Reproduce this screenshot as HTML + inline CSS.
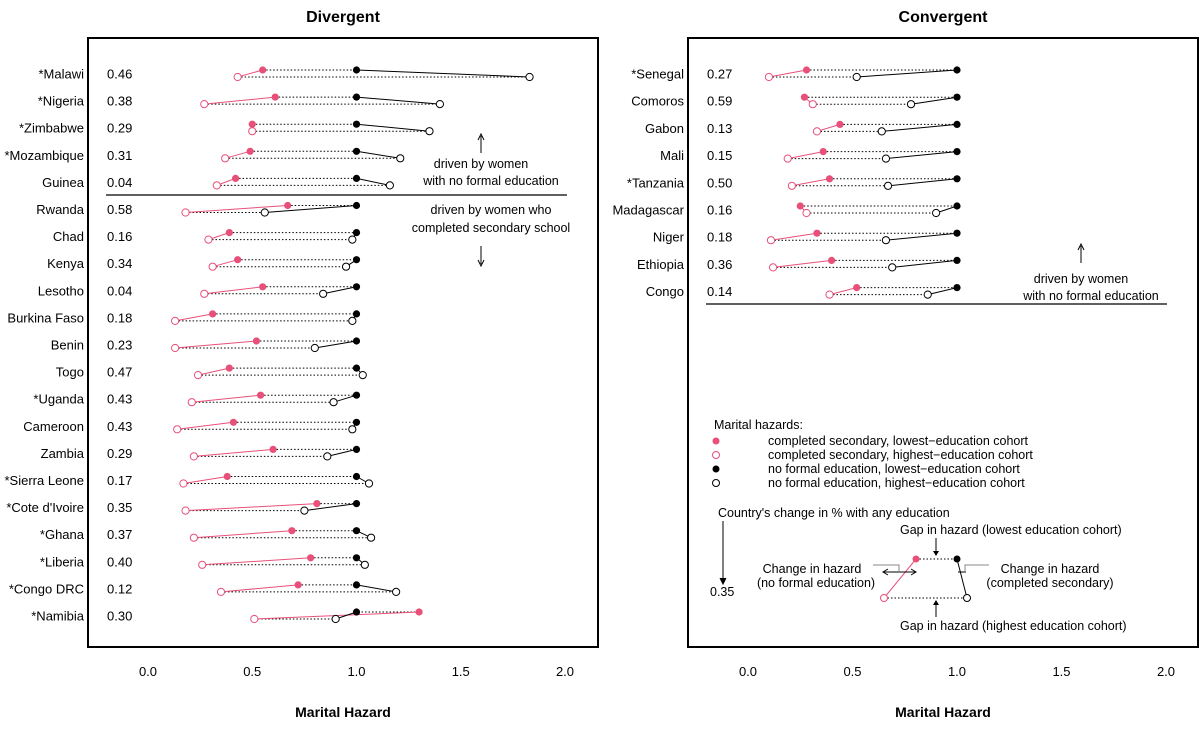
<!DOCTYPE html>
<html><head><meta charset="utf-8"><style>
body{margin:0;background:#fff;}
svg text{font-family:"Liberation Sans",Arial,sans-serif;}
</style></head><body>
<svg id="chart" width="1200" height="735" viewBox="0 0 1200 735" xmlns="http://www.w3.org/2000/svg">
<g id="left"></g>
<g id="right"></g>
<g id="notes" font-size="12.5" fill="#000">
<line x1="106" y1="195" x2="567" y2="195" stroke="#000" stroke-width="1.2"/>
<text x="481" y="168" text-anchor="middle" font-size="12.5">driven by women</text>
<text x="491" y="185" text-anchor="middle" font-size="12.5">with no formal education</text>
<line x1="481" y1="153" x2="481" y2="136" stroke="#000"/><path d="M478,140 L481,134 L484,140" fill="none" stroke="#000"/>
<text x="491" y="214" text-anchor="middle" font-size="12.5">driven by women who</text>
<text x="491" y="232" text-anchor="middle" font-size="12.5">completed secondary school</text>
<line x1="481" y1="246" x2="481" y2="264" stroke="#000"/><path d="M478,260 L481,266 L484,260" fill="none" stroke="#000"/>
<line x1="706" y1="304" x2="1167" y2="304" stroke="#000" stroke-width="1.2"/>
<line x1="1081" y1="263" x2="1081" y2="246" stroke="#000"/><path d="M1078,250 L1081,244 L1084,250" fill="none" stroke="#000"/>
<text x="1081" y="283" text-anchor="middle" font-size="12.5">driven by women</text>
<text x="1091" y="300" text-anchor="middle" font-size="12.5">with no formal education</text>
<g>
<text x="714" y="429">Marital hazards:</text>
<circle cx="716" cy="441" r="3.5" fill="#e8507a"/><text x="768" y="445">completed secondary, lowest−education cohort</text>
<circle cx="716" cy="455" r="3.5" fill="none" stroke="#e8507a"/><text x="768" y="459">completed secondary, highest−education cohort</text>
<circle cx="716" cy="469" r="3.5" fill="#000"/><text x="768" y="473">no formal education, lowest−education cohort</text>
<circle cx="716" cy="483" r="3.5" fill="none" stroke="#000"/><text x="768" y="487">no formal education, highest−education cohort</text>
</g>
<g>
<text x="718" y="517">Country's change in % with any education</text>
<line x1="723" y1="521" x2="723" y2="583" stroke="#000"/><path d="M720,578 L723,584 L726,578" fill="#000" stroke="#000"/>
<text x="710" y="596">0.35</text>
<text x="900" y="534">Gap in hazard (lowest education cohort)</text>
<line x1="936" y1="538" x2="936" y2="555" stroke="#000"/><path d="M933,551 L936,556 L939,551" fill="#000"/>
<line x1="916" y1="559" x2="957" y2="559" stroke="#000" stroke-dasharray="1.5,2"/>
<line x1="884" y1="598" x2="967" y2="598" stroke="#000" stroke-dasharray="1.5,2"/>
<line x1="916" y1="559" x2="884" y2="598" stroke="#e8507a"/>
<line x1="957" y1="559" x2="967" y2="598" stroke="#000"/>
<circle cx="916" cy="559" r="3.5" fill="#e8507a"/><circle cx="884" cy="598" r="3.5" fill="#fff" stroke="#e8507a"/>
<circle cx="957" cy="559" r="3.5" fill="#000"/><circle cx="967" cy="598" r="3.5" fill="#fff" stroke="#000"/>
<text x="812" y="573" text-anchor="middle">Change in hazard</text>
<text x="816" y="587" text-anchor="middle">(no formal education)</text>
<path d="M873,565 L899,565 L899,571" fill="none" stroke="#888"/>
<line x1="884" y1="572" x2="915" y2="572" stroke="#000"/><path d="M888,569 L883,572 L888,575 M911,569 L916,572 L911,575" fill="none" stroke="#000"/>
<text x="1050" y="573" text-anchor="middle">Change in hazard</text>
<text x="1050" y="587" text-anchor="middle">(completed secondary)</text>
<path d="M989,565 L965,565 L965,571" fill="none" stroke="#888"/>
<line x1="958" y1="572" x2="966" y2="572" stroke="#000"/>
<text x="900" y="630">Gap in hazard (highest education cohort)</text>
<line x1="936" y1="617" x2="936" y2="601" stroke="#000"/><path d="M933,605 L936,600 L939,605" fill="#000"/>
</g>
</g>
</svg>
<script>
const leftCountries=["*Malawi","*Nigeria","*Zimbabwe","*Mozambique","Guinea","Rwanda","Chad","Kenya","Lesotho","Burkina Faso","Benin","Togo","*Uganda","Cameroon","Zambia","*Sierra Leone","*Cote d'Ivoire","*Ghana","*Liberia","*Congo DRC","*Namibia"];
const leftChange=["0.46","0.38","0.29","0.31","0.04","0.58","0.16","0.34","0.04","0.18","0.23","0.47","0.43","0.43","0.29","0.17","0.35","0.37","0.40","0.12","0.30"];
const leftSecLow=[0.55,0.61,0.50,0.49,0.42,0.67,0.39,0.43,0.55,0.31,0.52,0.39,0.54,0.41,0.60,0.38,0.81,0.69,0.78,0.72,1.30];
const leftSecHigh=[0.43,0.27,0.50,0.37,0.33,0.18,0.29,0.31,0.27,0.13,0.13,0.24,0.21,0.14,0.22,0.17,0.18,0.22,0.26,0.35,0.51];
const leftNoneLow=[1,1,1,1,1,1,1,1,1,1,1,1,1,1,1,1,1,1,1,1,1];
const leftNoneHigh=[1.83,1.40,1.35,1.21,1.16,0.56,0.98,0.95,0.84,0.98,0.80,1.03,0.89,0.98,0.86,1.06,0.75,1.07,1.04,1.19,0.90];
const rightCountries=["*Senegal","Comoros","Gabon","Mali","*Tanzania","Madagascar","Niger","Ethiopia","Congo"];
const rightChange=["0.27","0.59","0.13","0.15","0.50","0.16","0.18","0.36","0.14"];
const rightSecLow=[0.28,0.27,0.44,0.36,0.39,0.25,0.33,0.40,0.52];
const rightSecHigh=[0.10,0.31,0.33,0.19,0.21,0.28,0.11,0.12,0.39];
const rightNoneLow=[1,1,1,1,1,1,1,1,1];
const rightNoneHigh=[0.52,0.78,0.64,0.66,0.67,0.90,0.66,0.69,0.86];
const xTicks=[0,0.5,1,1.5,2];
const xTickLabels=["0.0","0.5","1.0","1.5","2.0"];
const NS="http://www.w3.org/2000/svg";
const PINK="#e8507a";
function mk(p,tag,a){const e=document.createElementNS(NS,tag);for(const k in a)e.setAttribute(k,a[k]);p.appendChild(e);return e;}
function panel(g,o){
  const x=v=>o.x0+v*o.unit;
  const y=i=>o.y0+i*o.step;
  const box=mk(g,'rect',{x:o.bx,y:38,width:510,height:609,fill:'none',stroke:'#000','stroke-width':2});
  
  const t=mk(g,'text',{x:o.bx+255,y:22,'text-anchor':'middle','font-size':16,'font-weight':'bold'});t.textContent=o.title;
  
  xTicks.forEach((v,i)=>{const l=mk(g,'text',{x:x(v),y:676,'text-anchor':'middle','font-size':13});l.textContent=xTickLabels[i];
    });
  const xt=mk(g,'text',{x:o.bx+255,y:717,'text-anchor':'middle','font-size':14,'font-weight':'bold'});xt.textContent='Marital Hazard';
  
  o.c.forEach((c,i)=>{
    const yc=y(i),yt=yc-4,yb=yc+3;
    const lab=mk(g,'text',{x:o.bx-4,y:yc+4.5,'text-anchor':'end','font-size':13});lab.textContent=c;
    
    const ch=mk(g,'text',{x:o.bx+19,y:yc+4.5,'font-size':13});ch.textContent=o.ch[i];
    
    const row=mk(g,'g',{});
    mk(row,'line',{x1:x(o.sl[i]),y1:yt,x2:x(o.nl[i]),y2:yt,stroke:'#000','stroke-dasharray':'1.5,2'});
    mk(row,'line',{x1:x(o.sh[i]),y1:yb,x2:x(o.nh[i]),y2:yb,stroke:'#000','stroke-dasharray':'1.5,2'});
    mk(row,'line',{x1:x(o.sl[i]),y1:yt,x2:x(o.sh[i]),y2:yb,stroke:PINK});
    mk(row,'line',{x1:x(o.nl[i]),y1:yt,x2:x(o.nh[i]),y2:yb,stroke:'#000'});
    const a=mk(row,'circle',{cx:x(o.sh[i]),cy:yb,r:3.6,fill:'#fff',stroke:PINK});
    const b=mk(row,'circle',{cx:x(o.nh[i]),cy:yb,r:3.6,fill:'#fff',stroke:'#000'});
    const d=mk(row,'circle',{cx:x(o.sl[i]),cy:yt,r:3.6,fill:PINK});
    const e=mk(row,'circle',{cx:x(o.nl[i]),cy:yt,r:3.6,fill:'#000'});
  });
}
panel(document.getElementById('left'),{bx:88,x0:148,unit:208.5,y0:74,step:27.1,title:'Divergent',c:leftCountries,ch:leftChange,sl:leftSecLow,sh:leftSecHigh,nl:leftNoneLow,nh:leftNoneHigh});
panel(document.getElementById('right'),{bx:688,x0:748,unit:209,y0:74,step:27.2,title:'Convergent',c:rightCountries,ch:rightChange,sl:rightSecLow,sh:rightSecHigh,nl:rightNoneLow,nh:rightNoneHigh});
</script>
</body></html>
